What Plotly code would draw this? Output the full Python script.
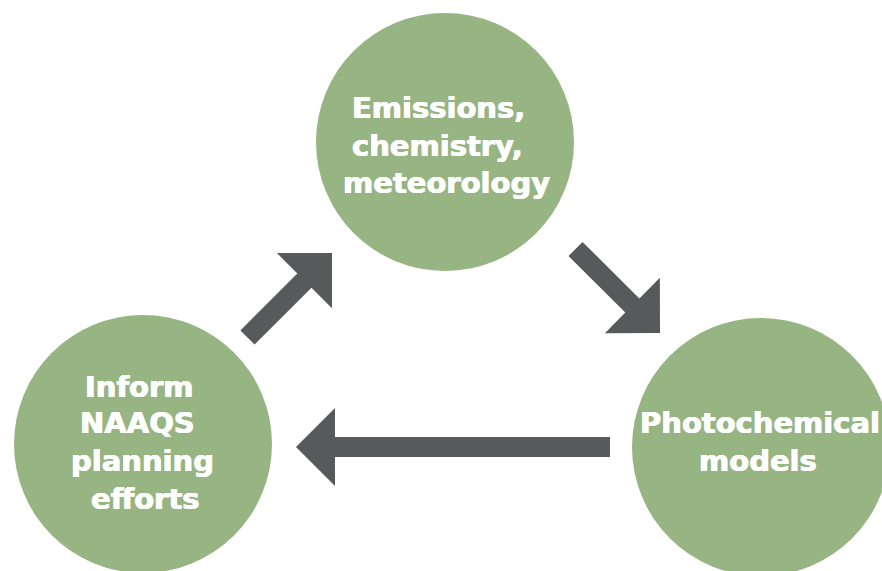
import plotly.graph_objects as go

# ---- data ----
node_names = ["Emissions, chemistry, meteorology", "Photochemical models", "Inform NAAQS planning efforts"]
node_lines = [
    ["Emissions,", "chemistry,", "meteorology"],
    ["Photochemical", "models"],
    ["Inform", "NAAQS", "planning", "efforts"],
]

# ---- layout geometry (pixels) ----
W, H = 882, 571
node_centers = [(445, 142), (761, 447), (143, 444)]
node_radius = 129
# per-line text centre x and baseline y
line_x = [[438.5, 437, 446.5], [760, 758], [139, 137.5, 142, 145.5]]
line_base = [[118, 156, 193], [433, 471], [397, 433, 471, 509]]

# arrows: (tail, tip)
arrows = [((247.5, 337.5), (332, 253)),
          ((575.5, 249), (660, 333)),
          ((610, 447), (296, 447))]
shaft_w, head_len, head_w = 20, 39, 78

GREEN = "#97B583"
GRAY = "#58595B"
FONT = dict(family="DejaVu Sans", size=29, color="white", weight="bold",
            shadow="0.5px 0 0 white, -0.5px 0 0 white")

fig = go.Figure()
fig.add_trace(go.Scatter(x=[0, W], y=[0, H], mode="markers", marker=dict(opacity=0),
                         hoverinfo="skip", showlegend=False))

shapes = []
for (cx, cy) in node_centers:
    shapes.append(dict(type="circle", xref="x", yref="y",
                       x0=cx - node_radius, x1=cx + node_radius,
                       y0=cy - node_radius, y1=cy + node_radius,
                       fillcolor=GREEN, line=dict(width=0), layer="below"))


def arrow_path(tail, tip):
    import math
    dx, dy = tip[0] - tail[0], tip[1] - tail[1]
    L = math.hypot(dx, dy)
    ux, uy = dx / L, dy / L
    nx, ny = -uy, ux
    bx, by = tip[0] - ux * head_len, tip[1] - uy * head_len
    s = shaft_w / 2
    h = head_w / 2
    pts = [
        (tail[0] + nx * s, tail[1] + ny * s),
        (bx + nx * s, by + ny * s),
        (bx + nx * h, by + ny * h),
        tip,
        (bx - nx * h, by - ny * h),
        (bx - nx * s, by - ny * s),
        (tail[0] - nx * s, tail[1] - ny * s),
    ]
    return "M " + " L ".join(f"{x:.2f},{y:.2f}" for x, y in pts) + " Z"


for tail, tip in arrows:
    shapes.append(dict(type="path", xref="x", yref="y", path=arrow_path(tail, tip),
                       fillcolor=GRAY, line=dict(width=0), layer="above"))

annotations = []
for lines, xs, bs in zip(node_lines, line_x, line_base):
    for t, x, b in zip(lines, xs, bs):
        annotations.append(dict(x=x, y=b - 10.5, xref="x", yref="y", text=t,
                                showarrow=False, xanchor="center", yanchor="middle",
                                font=FONT))

fig.update_layout(
    width=W, height=H, autosize=False,
    margin=dict(l=0, r=0, t=0, b=0),
    paper_bgcolor="white", plot_bgcolor="white",
    xaxis=dict(range=[0, W], visible=False, fixedrange=True),
    yaxis=dict(range=[H, 0], visible=False, fixedrange=True),
    shapes=shapes, annotations=annotations, showlegend=False,
)
fig.write_html("out.html", config={"displayModeBar": False},
               post_script="document.body.style.margin='0';document.body.style.overflow='hidden';")
